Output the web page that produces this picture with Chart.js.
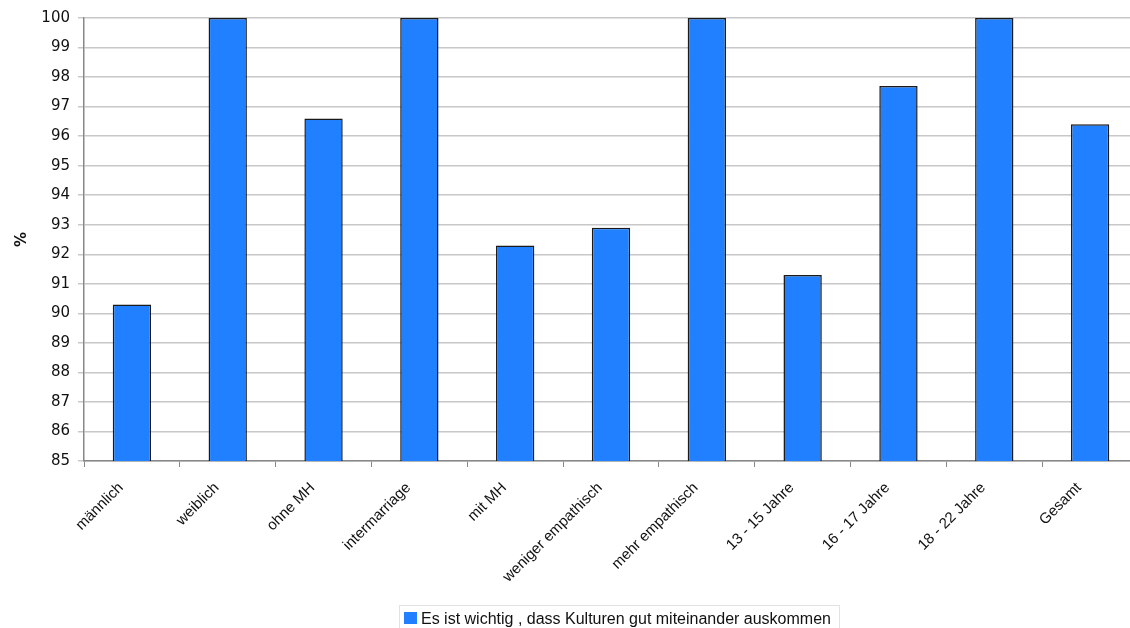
<!DOCTYPE html>
<html>
<head>
<meta charset="utf-8">
<script src="https://cdn.jsdelivr.net/npm/chart.js@4/dist/chart.umd.min.js"></script>
<style>
html,body{margin:0;padding:0;background:#fff;overflow:hidden;}
#wrap{width:1140px;height:628px;}
</style>
</head>
<body>
<div id="wrap"><canvas id="c" width="1140" height="628"></canvas></div>
<script>
const categories = ["männlich","weiblich","ohne MH","intermarriage","mit MH","weniger empathisch","mehr empathisch","13 - 15 Jahre","16 - 17 Jahre","18 - 22 Jahre","Gesamt"];
const seriesLabel = "Es ist wichtig , dass Kulturen gut miteinander auskommen";
const values = [90.3,100,96.6,100,92.3,92.9,100,91.3,97.7,100,96.4];
const yMin = 85, yMax = 100, yStep = 1;
const yTitle = "%";

const legendPlugin = {
  id:'customLegend',
  afterDraw(chart){
    const ctx = chart.ctx;
    const ds = chart.data.datasets[0];
    ctx.save();
    ctx.font = '16px "Liberation Sans", Arial, sans-serif';
    const tw = ctx.measureText(ds.label).width;
    const boxX = 399, boxY = 605, boxH = 30;
    const boxW = 5 + 13 + 4 + tw + 8;
    ctx.strokeStyle = '#e2e2e2';
    ctx.lineWidth = 1;
    ctx.strokeRect(boxX+0.5, boxY+0.5, boxW, boxH);
    ctx.fillStyle = ds.backgroundColor;
    ctx.fillRect(boxX+5, boxY+7, 13, 12);
    ctx.fillStyle = '#111';
    ctx.textBaseline = 'alphabetic';
    ctx.fillText(ds.label, boxX+22, boxY+19);
    ctx.restore();
  }
};

new Chart(document.getElementById('c'), {
  type:'bar',
  data:{
    labels: categories,
    datasets:[{
      label: seriesLabel,
      data: values,
      backgroundColor:'#2080ff',
      borderColor:'#1a1a1a',
      borderWidth:1.5,
      barPercentage:0.8,
      categoryPercentage:0.5
    }]
  },
  options:{
    responsive:false,
    animation:false,
    layout:{padding:{top:18,right:2,left:0,bottom:0}},
    plugins:{legend:{display:false},tooltip:{enabled:false}},
    scales:{
      x:{
        afterFit(s){ s.height = 167; },
        grid:{display:true,drawOnChartArea:false,drawTicks:true,tickLength:6,color:'#888',offset:true},
        border:{display:true,color:'#888',width:1.5},
        ticks:{
          maxRotation:45,minRotation:45,autoSkip:false,
          color:'#111',
          font:{family:'"Liberation Sans", Arial, sans-serif',size:15},
          padding:12,
          labelOffset:-11
        }
      },
      y:{
        min:yMin,max:yMax,
        afterFit(s){ s.width = 84; },
        grid:{color:'#c8c8c8',lineWidth:1.5,tickLength:6,drawTicks:true},
        border:{display:true,color:'#888',width:1.5},
        ticks:{
          stepSize:yStep,
          color:'#111',
          font:{family:'"DejaVu Sans", Verdana, sans-serif',size:15},
          padding:8
        },
        title:{
          display:true,text:yTitle,color:'#111',
          font:{family:'"DejaVu Sans", Verdana, sans-serif',size:15,weight:'bold'},
          padding:{top:13,bottom:0}
        }
      }
    }
  },
  plugins:[legendPlugin]
});
</script>
</body>
</html>
